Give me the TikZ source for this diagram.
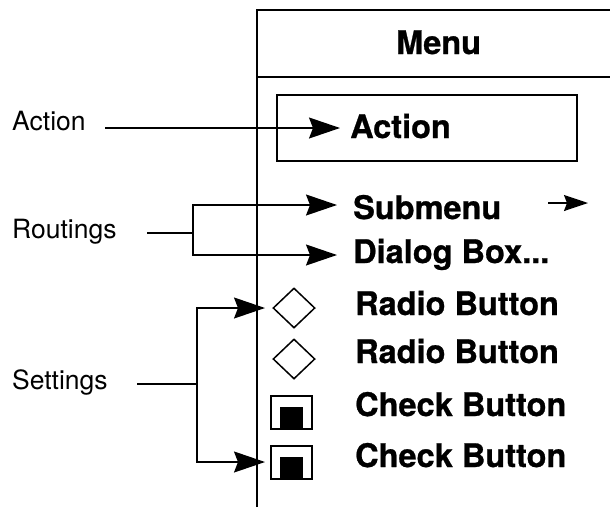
\documentclass[tikz,border=0pt]{standalone}
\usepackage{fontspec}
\setmainfont{TeX Gyre Heros}[BoldFeatures={FakeBold=0.8}]
\usetikzlibrary{arrows.meta,shapes.geometric}
\begin{document}
\begin{tikzpicture}[x=1pt,y=-1pt,
  frame/.style={line width=1.5pt},
  conn/.style={line width=1.5pt},
  arr/.style={conn,-{Stealth[length=31pt,width=21pt,inset=4pt]}},
  smallarr/.style={conn,-{Stealth[length=24pt,width=16pt,inset=3pt]}},
  item/.style={anchor=base west,inner sep=0pt,font=\fontsize{32.5}{38}\selectfont\bfseries},
  lab/.style={anchor=base west,inner sep=0pt,font=\fontsize{26.5}{30}\selectfont},
  radio/.style={diamond,draw,line width=1.5pt,minimum width=42pt,minimum height=40pt,inner sep=0pt},
  checkbox/.style={draw,line width=1.7pt,minimum width=41pt,minimum height=33pt,inner sep=0pt},
  checkmark/.style={fill,minimum size=23pt,inner sep=0pt,anchor=south}]

\useasboundingbox (0,0) rectangle (610,507);

% menu frame
\coordinate (ftop) at (257,10);
\coordinate (fbot) at (257,507);
\coordinate (fright) at (610,10);
\coordinate (sepl) at (257,77);
\coordinate (sepr) at (610,77);
\draw[frame] (fbot) -- (ftop) -- (fright);
\draw[frame] (sepl) -- (sepr);

\node[item] (menu) at (396,54) {Menu};

% action item
\node[draw,line width=1.5pt,minimum width=300pt,minimum height=66pt,inner sep=0pt] (actbox) at (427,128) {};
\node[item] (action) at (350,138) {Action};
\node[lab] (actlab) at (12,130) {Action};
\coordinate (actstart) at (105,128);
\coordinate (acttip) at (340,128);
\draw[arr] (actstart) -- (acttip);

% routings
\node[item] (submenu) at (353,219) {Submenu};
\node[item] (dialog) at (353,263) {Dialog Box...};
\coordinate (subr1) at (548,203);
\coordinate (subr2) at (588,203);
\draw[smallarr] (subr1) -- (subr2);
\node[lab] (routlab) at (12,238) {Routings};
\coordinate (routstart) at (147,233);
\coordinate (routj) at (193,233);
\coordinate (subtip) at (337,205);
\coordinate (dlgtip) at (337,255);
\draw[conn] (routstart) -- (routj);
\draw[arr] (routj) |- (subtip);
\draw[arr] (routj) |- (dlgtip);

% settings
\node[radio] (rad1) at (294,308) {};
\node[radio] (rad2) at (294,359) {};
\node[checkbox] (cb1) at (291.5,412.5) {};
\node[checkmark] (cm1) at (cb1.south) {};
\node[checkbox] (cb2) at (291.5,462.5) {};
\node[checkmark] (cm2) at (cb2.south) {};
\node[item] (radt1) at (355,315) {Radio Button};
\node[item] (radt2) at (355,363) {Radio Button};
\node[item] (cbt1) at (355,416) {Check Button};
\node[item] (cbt2) at (355,467) {Check Button};
\node[lab] (setlab) at (12,389) {Settings};
\coordinate (setstart) at (137,384);
\coordinate (setj) at (197,384);
\coordinate (settip1) at (265,308);
\coordinate (settip2) at (265,462);
\draw[conn] (setstart) -- (setj);
\draw[arr] (setj) |- (settip1);
\draw[arr] (setj) |- (settip2);
\end{tikzpicture}
\end{document}
